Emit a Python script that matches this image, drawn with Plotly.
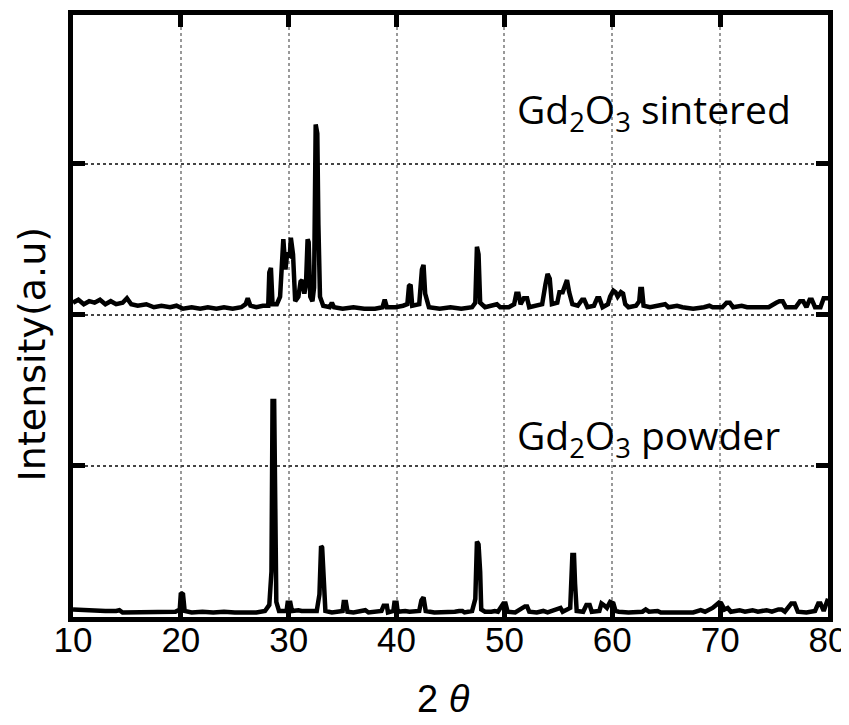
import plotly.graph_objects as go

# 2-theta (deg) and intensity (a.u.)
sintered_x = [10.0, 10.5, 11.0, 11.5, 12.0, 12.5, 13.0, 13.5, 14.0, 14.6, 15.0, 15.4, 16.0, 16.8, 17.5, 18.2, 19.0, 19.6,
              20.2, 21.0, 21.8, 22.5, 23.3, 24.0, 24.8, 25.6, 26.0, 26.2, 26.45, 27.0, 27.6, 28.1, 28.2, 28.35, 28.5,
              28.9, 29.2, 29.4, 29.5, 29.7, 29.85, 30.1, 30.2, 30.4, 30.6, 30.9, 31.1, 31.25, 31.45, 31.6, 31.75, 31.85,
              32.0, 32.2, 32.35, 32.5, 32.65, 32.75, 32.9, 33.2, 33.8, 34.0, 34.2, 35.0, 36.0, 37.0, 38.0, 38.7, 38.9,
              39.1, 39.9, 40.6, 41.0, 41.15, 41.3, 41.45, 42.1, 42.35, 42.5, 42.65, 43.0, 44.0, 45.0, 46.0, 47.0, 47.3,
              47.45, 47.6, 47.75, 48.2, 49.0, 49.3, 49.6, 50.4, 50.9, 51.1, 51.3, 51.5, 51.8, 52.1, 52.3, 53.0, 53.5,
              53.8, 54.0, 54.2, 54.4, 54.9, 55.1, 55.4, 55.6, 55.8, 56.0, 56.3, 56.8, 57.2, 57.4, 57.7, 58.3, 58.6,
              58.8, 59.1, 59.6, 59.8, 60.1, 60.3, 60.5, 60.8, 61.0, 61.2, 61.5, 62.2, 62.5, 62.6, 62.75, 62.9, 63.5,
              64.3, 64.9, 65.2, 66.0, 66.5, 67.5, 68.5, 69.0, 69.3, 70.2, 70.6, 70.9, 71.2, 72.0, 72.5, 73.5, 74.5,
              75.2, 75.5, 75.8, 76.1, 77.0, 77.4, 77.7, 78.0, 78.3, 78.5, 78.8, 79.3, 79.6, 80.0]
sintered_y = [2.08, 2.10, 2.07, 2.09, 2.08, 2.10, 2.07, 2.09, 2.07, 2.08, 2.11, 2.07, 2.06, 2.07, 2.05, 2.06, 2.05, 2.06,
              2.04, 2.05, 2.04, 2.05, 2.04, 2.05, 2.04, 2.05, 2.07, 2.11, 2.06, 2.05, 2.06, 2.06, 2.28, 2.31, 2.07,
              2.07, 2.12, 2.47, 2.50, 2.30, 2.40, 2.39, 2.51, 2.40, 2.09, 2.12, 2.22, 2.23, 2.14, 2.20, 2.50, 2.48,
              2.12, 2.09, 2.18, 3.26, 3.20, 2.60, 2.12, 2.06, 2.05, 2.08, 2.05, 2.04, 2.05, 2.04, 2.04, 2.05, 2.10,
              2.05, 2.05, 2.06, 2.07, 2.19, 2.20, 2.06, 2.07, 2.30, 2.33, 2.14, 2.05, 2.04, 2.05, 2.04, 2.05, 2.08,
              2.45, 2.40, 2.08, 2.05, 2.06, 2.07, 2.05, 2.05, 2.07, 2.14, 2.14, 2.07, 2.11, 2.11, 2.05, 2.06, 2.07,
              2.20, 2.27, 2.24, 2.07, 2.08, 2.15, 2.15, 2.20, 2.23, 2.15, 2.07, 2.06, 2.10, 2.10, 2.05, 2.06, 2.11,
              2.11, 2.05, 2.07, 2.12, 2.16, 2.15, 2.12, 2.15, 2.14, 2.07, 2.05, 2.06, 2.09, 2.17, 2.17, 2.06, 2.05,
              2.06, 2.07, 2.05, 2.06, 2.05, 2.04, 2.05, 2.06, 2.05, 2.05, 2.08, 2.08, 2.05, 2.06, 2.05, 2.05, 2.05,
              2.08, 2.09, 2.09, 2.05, 2.05, 2.09, 2.09, 2.05, 2.10, 2.10, 2.05, 2.05, 2.11, 2.11]

powder_x = [10.0, 11.0, 12.0, 13.0, 14.0, 14.3, 14.6, 16.0, 18.0, 19.5, 19.9, 20.0, 20.2, 20.35, 21.0, 22.0, 23.0, 24.0,
            25.0, 26.0, 27.0, 27.8, 28.2, 28.4, 28.5, 28.65, 28.75, 28.85, 29.1, 29.8, 29.9, 30.15, 30.3, 30.9, 31.2,
            32.6, 32.85, 33.0, 33.1, 33.25, 33.4, 34.0, 35.0, 35.1, 35.3, 35.45, 36.0, 37.1, 37.4, 38.6, 38.8, 39.1,
            39.2, 39.7, 39.8, 40.0, 40.1, 40.8, 41.2, 42.1, 42.3, 42.5, 42.7, 43.5, 44.5, 45.4, 45.8, 46.1, 46.3, 47.0,
            47.3, 47.45, 47.6, 47.75, 47.85, 48.2, 48.8, 49.1, 49.4, 49.9, 50.1, 50.3, 51.0, 51.9, 52.1, 52.3, 53.0,
            53.6, 54.0, 54.9, 55.2, 55.4, 56.1, 56.3, 56.45, 56.55, 56.7, 57.3, 57.6, 57.9, 58.1, 58.8, 59.0, 59.2,
            59.5, 59.8, 60.1, 60.3, 60.6, 61.5, 62.0, 62.8, 63.1, 63.4, 64.2, 64.5, 65.5, 66.5, 67.5, 68.2, 68.6,
            69.3, 69.6, 69.9, 70.1, 70.4, 70.7, 71.0, 71.8, 72.3, 73.0, 73.5, 74.3, 74.8, 75.4, 75.7, 76.0, 76.6,
            76.9, 77.2, 78.0, 78.8, 79.1, 79.3, 79.6, 79.9, 80.0]
powder_y = [0.05, 0.045, 0.045, 0.04, 0.04, 0.045, 0.03, 0.03, 0.03, 0.035, 0.05, 0.16, 0.15, 0.04, 0.03, 0.035, 0.03,
            0.035, 0.03, 0.03, 0.03, 0.04, 0.08, 0.30, 1.43, 1.43, 0.90, 0.10, 0.04, 0.04, 0.095, 0.095, 0.04, 0.045,
            0.04, 0.04, 0.15, 0.47, 0.46, 0.30, 0.04, 0.03, 0.04, 0.10, 0.10, 0.035, 0.03, 0.045, 0.03, 0.04, 0.075,
            0.075, 0.03, 0.04, 0.095, 0.095, 0.035, 0.04, 0.035, 0.04, 0.11, 0.13, 0.04, 0.03, 0.03, 0.035, 0.04,
            0.04, 0.03, 0.04, 0.12, 0.50, 0.48, 0.30, 0.05, 0.035, 0.035, 0.04, 0.035, 0.09, 0.09, 0.035, 0.03, 0.07,
            0.07, 0.035, 0.03, 0.04, 0.03, 0.05, 0.06, 0.035, 0.06, 0.41, 0.41, 0.22, 0.04, 0.035, 0.08, 0.08, 0.035,
            0.04, 0.09, 0.08, 0.06, 0.10, 0.09, 0.04, 0.035, 0.03, 0.03, 0.035, 0.05, 0.035, 0.04, 0.03, 0.03, 0.03,
            0.03, 0.045, 0.035, 0.06, 0.075, 0.095, 0.09, 0.05, 0.06, 0.035, 0.045, 0.035, 0.045, 0.035, 0.045,
            0.035, 0.05, 0.05, 0.035, 0.09, 0.09, 0.035, 0.03, 0.04, 0.09, 0.09, 0.04, 0.10, 0.12]

x_ticks = [10, 20, 30, 40, 50, 60, 70, 80]
y_ticks = [1, 2, 3]
labels = ["Gd<sub>2</sub>O<sub>3</sub> sintered", "Gd<sub>2</sub>O<sub>3</sub> powder"]
label_pos = [(50.95, 3.35), (50.95, 1.19)]
x_title = "2 <i>θ</i>"
y_title = "Intensity(a.u)"

fig = go.Figure()
fig.add_trace(go.Scatter(x=sintered_x, y=sintered_y, mode="lines",
                         line=dict(color="black", width=4.5), showlegend=False))
fig.add_trace(go.Scatter(x=powder_x, y=powder_y, mode="lines",
                         line=dict(color="black", width=4.5), showlegend=False))

for text, (ax, ay) in zip(labels, label_pos):
    fig.add_annotation(x=ax, y=ay, xref="x", yref="y", text=text, showarrow=False,
                       xanchor="left", yanchor="middle",
                       font=dict(family="Open Sans", size=39, color="black"))

fig.add_annotation(x=-0.055, y=0.437, xref="paper", yref="paper", text=y_title,
                   textangle=-90, showarrow=False, xanchor="center", yanchor="middle",
                   font=dict(family="DejaVu Sans", size=38, color="black"))
fig.add_annotation(x=0.491, y=-0.137, xref="paper", yref="paper", text=x_title,
                   showarrow=False, xanchor="center", yanchor="middle",
                   font=dict(family="Liberation Sans", size=38, color="black"))

fig.update_xaxes(range=[10, 80], tickvals=x_ticks, ticks="inside", ticklen=12, tickwidth=5,
                 tickcolor="black", showline=True, linewidth=5, linecolor="black", mirror="ticks",
                 showgrid=True, gridcolor="#999999", griddash="dot", gridwidth=1.5,
                 zeroline=False, ticklabelstandoff=-12,
                 tickfont=dict(family="Liberation Sans", size=35, color="black"))
fig.update_yaxes(range=[0, 3.984], tickvals=y_ticks, ticks="inside", ticklen=12, tickwidth=5,
                 tickcolor="black", showline=True, linewidth=5, linecolor="black", mirror="ticks",
                 showgrid=True, gridcolor="#444444", griddash="dot", gridwidth=1.5,
                 zeroline=False, showticklabels=False)

fig.update_layout(width=841, height=717, plot_bgcolor="white", paper_bgcolor="white",
                  margin=dict(l=65, r=21, t=2, b=107.5))

fig.write_html("out.html")
